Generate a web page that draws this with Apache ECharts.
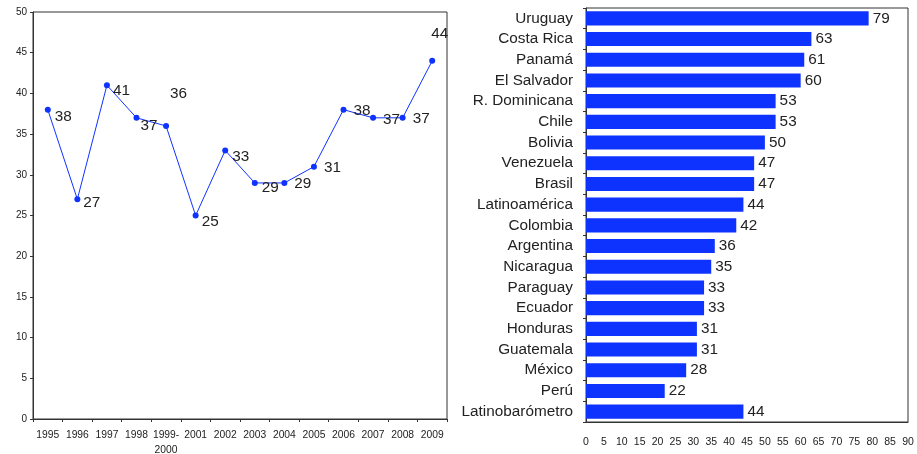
<!DOCTYPE html>
<html><head><meta charset="utf-8">
<script src="https://cdn.jsdelivr.net/npm/echarts@6/dist/echarts.min.js"></script>
<style>html,body{margin:0;padding:0;background:#fff}#c{width:917px;height:454px}</style>
</head><body><div id="c"></div>
<script>
const years = ['1995','1996','1997','1998','1999-\n2000','2001','2002','2003','2004','2005','2006','2007','2008','2009'];
const trendValues = [38,27,41,37,36,25,33,29,29,31,38,37,37,44];
const countries = ['Uruguay','Costa Rica','Panamá','El Salvador','R. Dominicana','Chile','Bolivia','Venezuela','Brasil','Latinoamérica','Colombia','Argentina','Nicaragua','Paraguay','Ecuador','Honduras','Guatemala','México','Perú','Latinobarómetro'];
const countryValues = [79,63,61,60,53,53,50,47,47,44,42,36,35,33,33,31,31,28,22,44];
const leftTicks = {min:0,max:50,interval:5};
const rightTicks = {min:0,max:90,interval:5};

// label offsets (style only)
const labelOffsets = [[-1,7],[-2,4],[-2,6],[-4,8],[-4,-32],[-2,6],[-1,6],[-1,5],[2,1],[2,1],[2,1],[2,2],[2,1],[-9,-27]];

const FONT = 'Liberation Sans, Arial, Helvetica, sans-serif';
const BLUE = '#0f33ff';
const AXIS = '#333';

const chart = echarts.init(document.getElementById('c'), null, {renderer:'canvas'});
chart.setOption({
  animation:false,
  backgroundColor:'#fff',
  textStyle:{fontFamily:FONT},
  grid:[
    {left:33, top:12, width:414, height:407, show:true, borderColor:AXIS, borderWidth:1, containLabel:false, outerBoundsMode:'none'},
    {left:586, top:8, width:322, height:414, show:true, borderColor:AXIS, borderWidth:1, containLabel:false, outerBoundsMode:'none'}
  ],
  xAxis:[
    {type:'category', gridIndex:0, data:years, boundaryGap:true,
     axisLine:{lineStyle:{color:AXIS}}, axisTick:{show:true, length:3, alignWithLabel:false, lineStyle:{color:AXIS}},
     axisLabel:{color:'#222', fontSize:10.3, fontFamily:FONT, margin:9, lineHeight:15, interval:0},
     splitLine:{show:false}},
    {type:'value', gridIndex:1, min:rightTicks.min, max:rightTicks.max, interval:rightTicks.interval,
     axisLine:{show:true, lineStyle:{color:AXIS}}, axisTick:{show:false},
     axisLabel:{color:'#222', fontSize:10.5, fontFamily:FONT, margin:15, hideOverlap:false, showMinLabel:true, showMaxLabel:true},
     splitLine:{show:false}}
  ],
  yAxis:[
    {type:'value', gridIndex:0, min:leftTicks.min, max:leftTicks.max, interval:leftTicks.interval,
     axisLine:{show:true, lineStyle:{color:AXIS}}, axisTick:{show:true, length:3, lineStyle:{color:AXIS}},
     axisLabel:{color:'#222', fontSize:10, fontFamily:FONT, margin:6},
     splitLine:{show:false}},
    {type:'category', gridIndex:1, data:countries, inverse:true, boundaryGap:true,
     axisLine:{show:true, lineStyle:{color:AXIS}}, axisTick:{show:true, length:3, lineStyle:{color:AXIS}},
     axisLabel:{color:'#222', fontSize:15.3, fontFamily:FONT, margin:13, interval:0},
     splitLine:{show:false}}
  ],
  series:[
    {type:'line', xAxisIndex:0, yAxisIndex:0,
     data: trendValues.map((v,i)=>({value:v, label:{offset:labelOffsets[i]}})),
     symbol:'circle', symbolSize:6, showSymbol:true,
     itemStyle:{color:BLUE}, lineStyle:{color:BLUE, width:1},
     label:{show:true, position:'right', distance:5, color:'#222', fontSize:15.3, fontFamily:FONT}},
    {type:'bar', xAxisIndex:1, yAxisIndex:1, data:countryValues,
     barCategoryGap:'32%', itemStyle:{color:BLUE},
     label:{show:true, position:'right', distance:4, color:'#222', fontSize:15.3, fontFamily:FONT}}
  ]
});
</script></body></html>
